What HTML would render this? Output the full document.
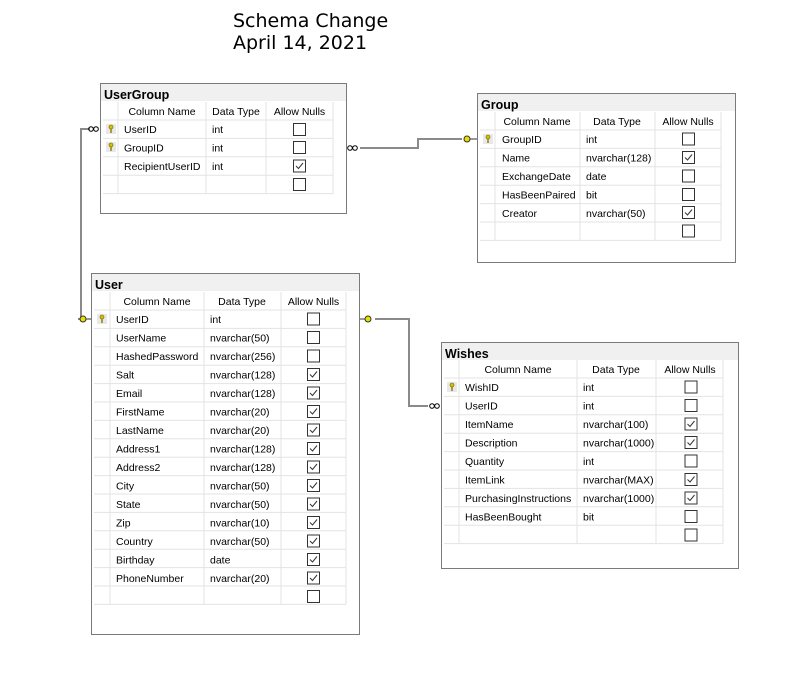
<!DOCTYPE html>
<html><head><meta charset="utf-8"><style>
html,body{margin:0;padding:0;background:#fff;}
svg{display:block;font-family:"Liberation Sans",sans-serif;font-size:10.5px;}
.t{font-weight:bold;font-size:12.5px;}
.h{text-anchor:middle;}
.g{stroke:#e3e3e3;stroke-width:1;fill:none;}
.ttl{font-size:19px;font-family:"DejaVu Sans","Liberation Sans",sans-serif;}
</style></head><body>
<svg width="805" height="687" viewBox="0 0 805 687" xmlns="http://www.w3.org/2000/svg">
<defs>
<symbol id="cb" viewBox="0 0 13 13" width="13" height="13"><rect x="0.5" y="0.5" width="12" height="12" fill="#fff" stroke="#333"/></symbol>
<symbol id="cc" viewBox="0 0 13 13" width="13" height="13"><rect x="0.5" y="0.5" width="12" height="12" fill="#fff" stroke="#333"/><path d="M3 6.5 L5.5 9 L10 3.5" fill="none" stroke="#333" stroke-width="1"/></symbol>
<symbol id="key" viewBox="0 0 10 10" width="10" height="10"><rect x="0" y="0" width="10" height="10" fill="#e8e8e8"/><circle cx="5" cy="3" r="2" fill="#d8c200" stroke="#6b5d00" stroke-width="0.6"/><rect x="4.3" y="4.5" width="1.4" height="4.5" fill="#8a7a00"/></symbol>
</defs>

<text class="ttl" x="233" y="27">Schema Change</text>
<text class="ttl" x="233" y="49">April 14, 2021</text>

<!-- connectors -->
<g fill="none" stroke="#8a8a8a" stroke-width="2">
<polyline points="360,148 418,148 418,139 462,139"/>
<polyline points="90,129 81,129 81,319 78,319"/>
<polyline points="375,319 409,319 409,406 428,406"/>
</g>
<g fill="none" stroke="#000" stroke-width="1">
<circle cx="350" cy="148" r="2.3"/><circle cx="355" cy="148" r="2.3"/>
<circle cx="91" cy="129" r="2.3"/><circle cx="96" cy="129" r="2.3"/>
<circle cx="432" cy="406" r="2.3"/><circle cx="437" cy="406" r="2.3"/>
</g>
<g fill="#e8e000" stroke="#333" stroke-width="1">
<circle cx="467" cy="139" r="3"/><line x1="470" y1="139" x2="477" y2="139"/>
<circle cx="83" cy="319" r="3"/><line x1="86" y1="319" x2="91" y2="319"/>
<circle cx="368" cy="319" r="3"/><line x1="359" y1="319" x2="365" y2="319"/>
</g>

<!-- UserGroup -->
<rect x="100.5" y="83.5" width="246" height="130" fill="#fff" stroke="#7a7a7a"/>
<rect x="101" y="84" width="245" height="17" fill="#f0f0f0"/>
<text class="t" x="104" y="99">UserGroup</text>
<rect x="103" y="102" width="230" height="91.6" fill="#fff"/>
<g class="g">
<line x1="103" y1="120" x2="333" y2="120"/><line x1="103" y1="138.4" x2="333" y2="138.4"/><line x1="103" y1="156.8" x2="333" y2="156.8"/><line x1="103" y1="175.2" x2="333" y2="175.2"/><line x1="103" y1="193.6" x2="333" y2="193.6"/>
<line x1="118" y1="102" x2="118" y2="193.6"/><line x1="206" y1="102" x2="206" y2="193.6"/><line x1="266" y1="102" x2="266" y2="193.6"/><line x1="333" y1="102" x2="333" y2="193.6"/>
</g>
<text class="h" x="162" y="115">Column Name</text><text class="h" x="236" y="115">Data Type</text><text class="h" x="299.5" y="115">Allow Nulls</text>
<use href="#key" x="106" y="124"/><use href="#key" x="106" y="142"/>
<text x="124" y="133">UserID</text><text x="212" y="133">int</text><use href="#cb" x="293" y="123"/>
<text x="124" y="151.5">GroupID</text><text x="212" y="151.5">int</text><use href="#cb" x="293" y="141"/>
<text x="124" y="170">RecipientUserID</text><text x="212" y="170">int</text><use href="#cc" x="293" y="159.5"/>
<use href="#cb" x="293" y="178"/>

<!-- Group -->
<rect x="477.5" y="93.5" width="258" height="169" fill="#fff" stroke="#7a7a7a"/>
<rect x="478" y="94" width="257" height="17" fill="#f0f0f0"/>
<text class="t" x="481" y="109">Group</text>
<g class="g">
<line x1="480" y1="130" x2="721" y2="130"/><line x1="480" y1="148.4" x2="721" y2="148.4"/><line x1="480" y1="166.8" x2="721" y2="166.8"/><line x1="480" y1="185.2" x2="721" y2="185.2"/><line x1="480" y1="203.6" x2="721" y2="203.6"/><line x1="480" y1="222" x2="721" y2="222"/><line x1="480" y1="240.4" x2="721" y2="240.4"/>
<line x1="495" y1="112" x2="495" y2="240.4"/><line x1="580" y1="112" x2="580" y2="240.4"/><line x1="655" y1="112" x2="655" y2="240.4"/><line x1="721" y1="112" x2="721" y2="240.4"/>
</g>
<text class="h" x="537" y="125">Column Name</text><text class="h" x="617" y="125">Data Type</text><text class="h" x="688" y="125">Allow Nulls</text>
<use href="#key" x="483" y="134"/>
<text x="502" y="143">GroupID</text><text x="586" y="143">int</text><use href="#cb" x="682" y="132.5"/>
<text x="502" y="161.5">Name</text><text x="586" y="161.5">nvarchar(128)</text><use href="#cc" x="682" y="151"/>
<text x="502" y="180">ExchangeDate</text><text x="586" y="180">date</text><use href="#cb" x="682" y="169.5"/>
<text x="502" y="198.5">HasBeenPaired</text><text x="586" y="198.5">bit</text><use href="#cb" x="682" y="188"/>
<text x="502" y="217">Creator</text><text x="586" y="217">nvarchar(50)</text><use href="#cc" x="682" y="206"/>
<use href="#cb" x="682" y="224.5"/>

<!-- User -->
<rect x="91.5" y="273.5" width="268" height="361" fill="#fff" stroke="#7a7a7a"/>
<rect x="92" y="274" width="267" height="17" fill="#f0f0f0"/>
<text class="t" x="95" y="289">User</text>
<g class="g">
<line x1="94" y1="310" x2="346" y2="310"/><line x1="94" y1="328.4" x2="346" y2="328.4"/><line x1="94" y1="346.8" x2="346" y2="346.8"/><line x1="94" y1="365.2" x2="346" y2="365.2"/><line x1="94" y1="383.6" x2="346" y2="383.6"/><line x1="94" y1="402" x2="346" y2="402"/><line x1="94" y1="420.4" x2="346" y2="420.4"/><line x1="94" y1="438.8" x2="346" y2="438.8"/><line x1="94" y1="457.2" x2="346" y2="457.2"/><line x1="94" y1="475.6" x2="346" y2="475.6"/><line x1="94" y1="494" x2="346" y2="494"/><line x1="94" y1="512.4" x2="346" y2="512.4"/><line x1="94" y1="530.8" x2="346" y2="530.8"/><line x1="94" y1="549.2" x2="346" y2="549.2"/><line x1="94" y1="567.6" x2="346" y2="567.6"/><line x1="94" y1="586" x2="346" y2="586"/><line x1="94" y1="604.4" x2="346" y2="604.4"/>
<line x1="110" y1="292" x2="110" y2="604.4"/><line x1="204" y1="292" x2="204" y2="604.4"/><line x1="281" y1="292" x2="281" y2="604.4"/><line x1="346" y1="292" x2="346" y2="604.4"/>
</g>
<text class="h" x="157" y="305">Column Name</text><text class="h" x="242" y="305">Data Type</text><text class="h" x="313.5" y="305">Allow Nulls</text>
<use href="#key" x="97" y="314"/>
<text x="116" y="323">UserID</text><text x="210" y="323">int</text><use href="#cb" x="307" y="312.5"/>
<text x="116" y="341.5">UserName</text><text x="210" y="341.5">nvarchar(50)</text><use href="#cb" x="307" y="331"/>
<text x="116" y="360">HashedPassword</text><text x="210" y="360">nvarchar(256)</text><use href="#cb" x="307" y="349.5"/>
<text x="116" y="378.5">Salt</text><text x="210" y="378.5">nvarchar(128)</text><use href="#cc" x="307" y="368"/>
<text x="116" y="397">Email</text><text x="210" y="397">nvarchar(128)</text><use href="#cc" x="307" y="386.5"/>
<text x="116" y="415.5">FirstName</text><text x="210" y="415.5">nvarchar(20)</text><use href="#cc" x="307" y="405"/>
<text x="116" y="434">LastName</text><text x="210" y="434">nvarchar(20)</text><use href="#cc" x="307" y="423.5"/>
<text x="116" y="452.5">Address1</text><text x="210" y="452.5">nvarchar(128)</text><use href="#cc" x="307" y="442"/>
<text x="116" y="471">Address2</text><text x="210" y="471">nvarchar(128)</text><use href="#cc" x="307" y="460.5"/>
<text x="116" y="489.5">City</text><text x="210" y="489.5">nvarchar(50)</text><use href="#cc" x="307" y="479"/>
<text x="116" y="508">State</text><text x="210" y="508">nvarchar(50)</text><use href="#cc" x="307" y="497.5"/>
<text x="116" y="526.5">Zip</text><text x="210" y="526.5">nvarchar(10)</text><use href="#cc" x="307" y="516"/>
<text x="116" y="545">Country</text><text x="210" y="545">nvarchar(50)</text><use href="#cc" x="307" y="534.5"/>
<text x="116" y="563.5">Birthday</text><text x="210" y="563.5">date</text><use href="#cc" x="307" y="553"/>
<text x="116" y="582">PhoneNumber</text><text x="210" y="582">nvarchar(20)</text><use href="#cc" x="307" y="571.5"/>
<use href="#cb" x="307" y="590"/>

<!-- Wishes -->
<rect x="441.5" y="342.5" width="297" height="226" fill="#fff" stroke="#7a7a7a"/>
<rect x="442" y="343" width="296" height="17" fill="#f0f0f0"/>
<text class="t" x="445" y="358">Wishes</text>
<g class="g">
<line x1="444" y1="378" x2="723" y2="378"/><line x1="444" y1="396.4" x2="723" y2="396.4"/><line x1="444" y1="414.8" x2="723" y2="414.8"/><line x1="444" y1="433.2" x2="723" y2="433.2"/><line x1="444" y1="451.6" x2="723" y2="451.6"/><line x1="444" y1="470" x2="723" y2="470"/><line x1="444" y1="488.4" x2="723" y2="488.4"/><line x1="444" y1="506.8" x2="723" y2="506.8"/><line x1="444" y1="525.2" x2="723" y2="525.2"/><line x1="444" y1="543.6" x2="723" y2="543.6"/>
<line x1="459" y1="360" x2="459" y2="543.6"/><line x1="577" y1="360" x2="577" y2="543.6"/><line x1="656" y1="360" x2="656" y2="543.6"/><line x1="723" y1="360" x2="723" y2="543.6"/>
</g>
<text class="h" x="518" y="373">Column Name</text><text class="h" x="616" y="373">Data Type</text><text class="h" x="690" y="373">Allow Nulls</text>
<use href="#key" x="447" y="382"/>
<text x="465" y="391">WishID</text><text x="583" y="391">int</text><use href="#cb" x="684.5" y="380.5"/>
<text x="465" y="409.5">UserID</text><text x="583" y="409.5">int</text><use href="#cb" x="684.5" y="399"/>
<text x="465" y="428">ItemName</text><text x="583" y="428">nvarchar(100)</text><use href="#cc" x="684.5" y="417.5"/>
<text x="465" y="446.5">Description</text><text x="583" y="446.5">nvarchar(1000)</text><use href="#cc" x="684.5" y="436"/>
<text x="465" y="465">Quantity</text><text x="583" y="465">int</text><use href="#cb" x="684.5" y="454.5"/>
<text x="465" y="483.5">ItemLink</text><text x="583" y="483.5">nvarchar(MAX)</text><use href="#cc" x="684.5" y="473"/>
<text x="465" y="502">PurchasingInstructions</text><text x="583" y="502">nvarchar(1000)</text><use href="#cc" x="684.5" y="491.5"/>
<text x="465" y="520.5">HasBeenBought</text><text x="583" y="520.5">bit</text><use href="#cb" x="684.5" y="510"/>
<use href="#cb" x="684.5" y="528.5"/>
</svg>
</body></html>
